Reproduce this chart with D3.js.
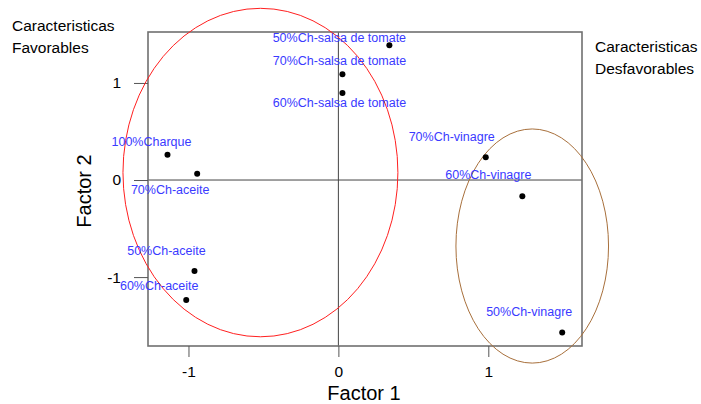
<!DOCTYPE html>
<html>
<head>
<meta charset="utf-8">
<script src="https://cdn.jsdelivr.net/npm/d3@7"></script>
<style>
  html, body { margin: 0; padding: 0; background: #fff; }
  svg { display: block; font-family: Arial, "Liberation Sans", sans-serif; }
</style>
</head>
<body>
<svg id="chart" width="701" height="404"></svg>
<script>
// ---- data ----
const labels = ["50%Ch-salsa de tomate", "70%Ch-salsa de tomate", "60%Ch-salsa de tomate",
  "100%Charque", "70%Ch-aceite", "50%Ch-aceite", "60%Ch-aceite",
  "70%Ch-vinagre", "60%Ch-vinagre", "50%Ch-vinagre"];
const factor1 = [0.34, 0.027, 0.027, -1.14, -0.942, -0.96, -1.015, 0.983, 1.227, 1.493];
const factor2 = [1.389, 1.09, 0.897, 0.261, 0.065, -0.938, -1.237, 0.234, -0.168, -1.57];
const xTicks = [-1, 0, 1];
const yTicks = [-1, 0, 1];
const xDomain = [-1.27, 1.625];
const yDomain = [-1.71, 1.525];
// groups drawn as ellipses: center (f1, f2) and radii in factor units
const groupNames = ["Favorables", "Desfavorables"];
const groupCx = [-0.52, 1.293];
const groupCy = [0.077, -0.68];
const groupRx = [0.917, 0.509];
const groupRy = [1.692, 1.206];
const groupTitles = [["Caracteristicas", "Favorables"], ["Caracteristicas", "Desfavorables"]];
const xTitle = "Factor 1";
const yTitle = "Factor 2";

// ---- layout / style (not data) ----
const labelNudge = [[-50, -8], [-3, -14], [-3, 10], [-16, -13], [-27, 16],
  [-28, -21], [-27, -15], [-34, -21], [-34, -22], [-33, -21]];
const groupColors = ["#ff2020", "#a8703c"];
const box = { left: 148, right: 582, top: 32, bottom: 346 };

const svg = d3.select("#chart");
const x = d3.scaleLinear().domain(xDomain).range([box.left, box.right]);
const y = d3.scaleLinear().domain(yDomain).range([box.bottom, box.top]);
const fmt = d => (d < 0 ? "-" + Math.abs(d) : String(d));

// zero lines
svg.append("line").attr("x1", x(xDomain[0])).attr("x2", x(xDomain[1]))
  .attr("y1", y(0)).attr("y2", y(0)).attr("stroke", "#444").attr("stroke-width", 1);
svg.append("line").attr("x1", x(0)).attr("x2", x(0))
  .attr("y1", y(yDomain[0])).attr("y2", y(yDomain[1])).attr("stroke", "#444").attr("stroke-width", 1);

// box
svg.append("rect").attr("x", box.left).attr("y", box.top)
  .attr("width", box.right - box.left).attr("height", box.bottom - box.top)
  .attr("fill", "none").attr("stroke", "#707070").attr("stroke-width", 1.6);

// axes
const xAxis = svg.append("g").attr("transform", `translate(0,${box.bottom})`)
  .call(d3.axisBottom(x).tickValues(xTicks).tickSize(11).tickPadding(9).tickFormat(fmt));
const yAxis = svg.append("g").attr("transform", `translate(${box.left},0)`)
  .call(d3.axisLeft(y).tickValues(yTicks).tickSize(14).tickPadding(13).tickFormat(fmt));
[xAxis, yAxis].forEach(a => {
  a.select(".domain").remove();
  a.selectAll(".tick line").attr("stroke", "#555");
  a.selectAll(".tick text").attr("fill", "#000").style("font-size", "15.5px")
    .style("font-family", "Arial, 'Liberation Sans', sans-serif");
});

// axis titles
svg.append("text").attr("x", 364).attr("y", 400).attr("text-anchor", "middle")
  .style("font-size", "20px").attr("fill", "#000").text(xTitle);
svg.append("text").attr("transform", "translate(91,191) rotate(-90)").attr("text-anchor", "middle")
  .style("font-size", "20px").attr("fill", "#000").text(yTitle);

// ellipses
svg.selectAll("ellipse.grp").data(groupNames).join("ellipse").attr("class", "grp")
  .attr("cx", (d, i) => x(groupCx[i]))
  .attr("cy", (d, i) => y(groupCy[i]))
  .attr("rx", (d, i) => x(groupCx[i] + groupRx[i]) - x(groupCx[i]))
  .attr("ry", (d, i) => y(groupCy[i] - groupRy[i]) - y(groupCy[i]))
  .attr("fill", "none").attr("stroke", (d, i) => groupColors[i]).attr("stroke-width", 1);

// group titles
const titlePos = [[12, 30.5], [595, 52.3]];
groupTitles.forEach((lines, i) => {
  lines.forEach((t, j) => {
    svg.append("text").attr("x", titlePos[i][0]).attr("y", titlePos[i][1] + j * 22)
      .style("font-size", "15.5px").attr("fill", "#000").text(t);
  });
});

// points
svg.selectAll("circle.pt").data(labels).join("circle").attr("class", "pt")
  .attr("cx", (d, i) => x(factor1[i])).attr("cy", (d, i) => y(factor2[i]))
  .attr("r", 3).attr("fill", "#000");

// point labels
svg.selectAll("text.lbl").data(labels).join("text").attr("class", "lbl")
  .attr("x", (d, i) => x(factor1[i]) + labelNudge[i][0])
  .attr("y", (d, i) => y(factor2[i]) + labelNudge[i][1] + 4.5)
  .attr("text-anchor", "middle").style("font-size", "12.5px").attr("fill", "#3a3aff")
  .text(d => d);
</script>
</body>
</html>
